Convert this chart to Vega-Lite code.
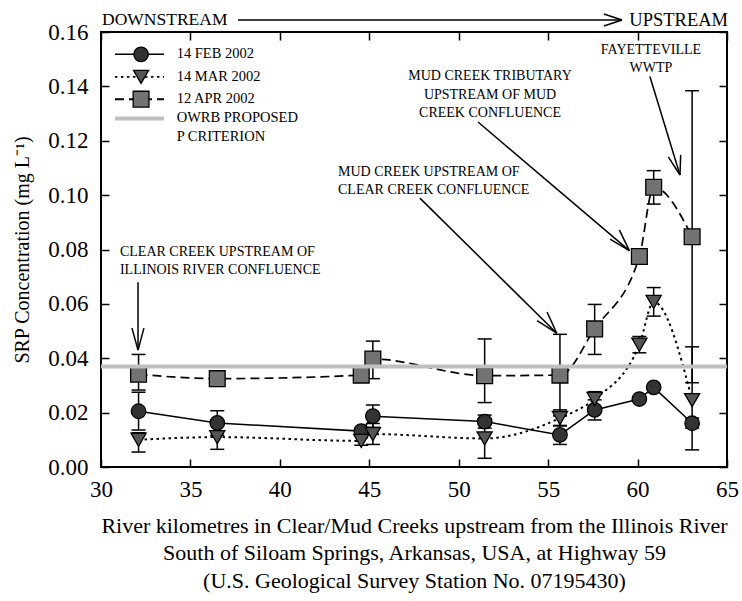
{
  "$schema": "https://vega.github.io/schema/vega-lite/v6.json",
  "width": 626,
  "height": 435,
  "autosize": "none",
  "padding": {"left": 101, "top": 32, "right": 15, "bottom": 134},
  "background": "white",
  "config": {
    "font": "Liberation Serif",
    "view": {"stroke": "black", "strokeWidth": 2},
    "axis": {
      "domain": false,
      "grid": false,
      "tickColor": "black",
      "tickWidth": 1.5,
      "tickSize": -8,
      "labelFont": "Liberation Serif",
      "labelFontSize": 23,
      "labelColor": "black",
      "titleFont": "Liberation Serif",
      "titleFontSize": 22,
      "titleFontWeight": "normal",
      "titleColor": "black"
    }
  },
  "datasets": {
    "pts": [
      {"s": "FEB", "km": 32.1, "val": 0.0205},
      {"s": "FEB", "km": 36.5, "val": 0.0162},
      {"s": "FEB", "km": 44.55, "val": 0.0132},
      {"s": "FEB", "km": 45.2, "val": 0.0187},
      {"s": "FEB", "km": 51.45, "val": 0.0167},
      {"s": "FEB", "km": 55.66, "val": 0.0118},
      {"s": "FEB", "km": 57.6, "val": 0.021},
      {"s": "FEB", "km": 60.1, "val": 0.025},
      {"s": "FEB", "km": 60.9, "val": 0.0293},
      {"s": "FEB", "km": 63.05, "val": 0.0161},
      {"s": "MAR", "km": 32.1, "val": 0.010},
      {"s": "MAR", "km": 36.5, "val": 0.011},
      {"s": "MAR", "km": 44.55, "val": 0.0096},
      {"s": "MAR", "km": 45.2, "val": 0.0121},
      {"s": "MAR", "km": 51.45, "val": 0.0105},
      {"s": "MAR", "km": 55.66, "val": 0.018},
      {"s": "MAR", "km": 57.6, "val": 0.025},
      {"s": "MAR", "km": 60.1, "val": 0.045},
      {"s": "MAR", "km": 60.9, "val": 0.0607},
      {"s": "MAR", "km": 63.05, "val": 0.0246},
      {"s": "APR", "km": 32.1, "val": 0.0341},
      {"s": "APR", "km": 36.5, "val": 0.0325},
      {"s": "APR", "km": 44.55, "val": 0.0338},
      {"s": "APR", "km": 45.2, "val": 0.0397},
      {"s": "APR", "km": 51.45, "val": 0.0336},
      {"s": "APR", "km": 55.66, "val": 0.0338},
      {"s": "APR", "km": 57.6, "val": 0.0508},
      {"s": "APR", "km": 60.1, "val": 0.0774},
      {"s": "APR", "km": 60.9, "val": 0.1029},
      {"s": "APR", "km": 63.05, "val": 0.0847}
    ],
    "err": [
      {"s": "FEB", "km": 32.1, "lo": 0.0136, "hi": 0.0275},
      {"s": "FEB", "km": 36.5, "lo": 0.0117, "hi": 0.0207},
      {"s": "FEB", "km": 45.2, "lo": 0.0146, "hi": 0.0228},
      {"s": "FEB", "km": 51.45, "lo": 0.0143, "hi": 0.0191},
      {"s": "FEB", "km": 55.66, "lo": 0.0083, "hi": 0.0153},
      {"s": "FEB", "km": 57.6, "lo": 0.0173, "hi": 0.0247},
      {"s": "FEB", "km": 63.05, "lo": 0.0143, "hi": 0.018},
      {"s": "MAR", "km": 32.1, "lo": 0.0055, "hi": 0.0126},
      {"s": "MAR", "km": 36.5, "lo": 0.0065, "hi": 0.0155},
      {"s": "MAR", "km": 44.55, "lo": 0.008, "hi": 0.0115},
      {"s": "MAR", "km": 45.2, "lo": 0.0083, "hi": 0.016},
      {"s": "MAR", "km": 51.45, "lo": 0.0032, "hi": 0.0178},
      {"s": "MAR", "km": 55.66, "lo": 0.0151, "hi": 0.021},
      {"s": "MAR", "km": 57.6, "lo": 0.0223, "hi": 0.0277},
      {"s": "MAR", "km": 60.1, "lo": 0.042, "hi": 0.048},
      {"s": "MAR", "km": 60.9, "lo": 0.0555, "hi": 0.066},
      {"s": "MAR", "km": 63.05, "lo": 0.0063, "hi": 0.0442},
      {"s": "APR", "km": 32.1, "lo": 0.0283, "hi": 0.0414},
      {"s": "APR", "km": 45.2, "lo": 0.0325, "hi": 0.0463},
      {"s": "APR", "km": 51.45, "lo": 0.0237, "hi": 0.0471},
      {"s": "APR", "km": 55.66, "lo": 0.0188, "hi": 0.0488},
      {"s": "APR", "km": 57.6, "lo": 0.0414, "hi": 0.0598},
      {"s": "APR", "km": 60.9, "lo": 0.0967, "hi": 0.109},
      {"s": "APR", "km": 63.05, "lo": 0.031, "hi": 0.1384}
    ],
    "legpts": [
      {"s": "FEB", "km": 32.24, "val": 0.1518},
      {"s": "MAR", "km": 32.24, "val": 0.1435},
      {"s": "APR", "km": 32.24, "val": 0.1353}
    ],
    "leglines": [
      {"s": "FEB", "km": 30.78, "km2": 33.52, "val": 0.1518},
      {"s": "MAR", "km": 30.78, "km2": 33.52, "val": 0.1435},
      {"s": "APR", "km": 30.78, "km2": 33.52, "val": 0.1353}
    ],
    "legcrit": [
      {"km": 30.78, "km2": 33.52, "val": 0.1282}
    ],
    "legtext": [
      {"km": 34.23, "val": 0.1518, "t": "14 FEB  2002"},
      {"km": 34.23, "val": 0.1435, "t": "14 MAR 2002"},
      {"km": 34.23, "val": 0.1353, "t": "12 APR  2002"},
      {"km": 34.23, "val": 0.1282, "t": "OWRB PROPOSED"},
      {"km": 34.23, "val": 0.1215, "t": "P CRITERION"}
    ],
    "annL": [
      {"km": 31.06, "val": 0.0791, "t": "CLEAR CREEK UPSTREAM OF"},
      {"km": 31.06, "val": 0.0725, "t": "ILLINOIS RIVER CONFLUENCE"},
      {"km": 43.25, "val": 0.1085, "t": "MUD CREEK UPSTREAM OF"},
      {"km": 43.25, "val": 0.1019, "t": "CLEAR CREEK CONFLUENCE"}
    ],
    "annC": [
      {"km": 51.75, "val": 0.1438, "t": "MUD CREEK TRIBUTARY"},
      {"km": 51.75, "val": 0.1368, "t": "UPSTREAM OF MUD"},
      {"km": 51.75, "val": 0.1302, "t": "CREEK CONFLUENCE"},
      {"km": 60.75, "val": 0.1534, "t": "FAYETTEVILLE"},
      {"km": 60.75, "val": 0.1468, "t": "WWTP"}
    ],
    "topL": [{"km": 30.06, "val": 0.1644, "t": "DOWNSTREAM"}],
    "topR": [{"km": 65.06, "val": 0.1644, "t": "UPSTREAM"}],
    "arrows": [
      {"km": 32.07, "val": 0.068, "km2": 32.07, "val2": 0.043},
      {"km": 31.73, "val": 0.0511, "km2": 32.07, "val2": 0.043},
      {"km": 32.40, "val": 0.0511, "km2": 32.07, "val2": 0.043},
      {"km": 47.83, "val": 0.0989, "km2": 55.48, "val2": 0.0492},
      {"km": 54.38, "val": 0.0538, "km2": 55.48, "val2": 0.0492},
      {"km": 54.94, "val": 0.057, "km2": 55.48, "val2": 0.0492},
      {"km": 51.08, "val": 0.1269, "km2": 59.54, "val2": 0.0796},
      {"km": 58.46, "val": 0.0838, "km2": 59.54, "val2": 0.0796},
      {"km": 58.98, "val": 0.0872, "km2": 59.54, "val2": 0.0796},
      {"km": 60.69, "val": 0.1436, "km2": 62.37, "val2": 0.1074},
      {"km": 61.72, "val": 0.1141, "km2": 62.37, "val2": 0.1074},
      {"km": 62.41, "val": 0.1148, "km2": 62.37, "val2": 0.1074},
      {"km": 37.66, "val": 0.1644, "km2": 59.13, "val2": 0.1644},
      {"km": 58.12, "val": 0.1666, "km2": 59.13, "val2": 0.1644},
      {"km": 58.12, "val": 0.1622, "km2": 59.13, "val2": 0.1644}
    ]
  },
  "layer": [
    {
      "layer": [
        {
          "data": {"name": "err"},
          "mark": {"type": "rule", "color": "black", "strokeWidth": 1.5},
          "encoding": {
            "x": {"field": "km", "type": "quantitative", "scale": {"domain": [30, 65], "nice": false, "zero": false},
              "axis": {"values": [30, 35, 40, 45, 50, 55, 60, 65], "labelPadding": 19, "labelFlush": false,
                "labelFont": "Liberation Serif", "titleFont": "Liberation Serif",
                "title": ["River kilometres in Clear/Mud Creeks upstream from the Illinois River", "South of Siloam Springs, Arkansas, USA, at Highway 59", "(U.S. Geological Survey Station No. 07195430)"],
                "titlePadding": 14, "titleLineHeight": 27.5}},
            "y": {"field": "lo", "type": "quantitative", "scale": {"domain": [0, 0.16], "nice": false},
              "axis": {"values": [0, 0.02, 0.04, 0.06, 0.08, 0.1, 0.12, 0.14, 0.16], "format": ".2f", "labelPadding": 21,
                "labelFont": "Liberation Serif", "titleFont": "Liberation Serif",
                "title": "SRP Concentration (mg L⁻¹)", "titleFontSize": 20, "titlePadding": 15}},
            "y2": {"field": "hi"}
          }
        },
        {
          "data": {"name": "err"},
          "transform": [{"fold": ["lo", "hi"], "as": ["which", "val"]}],
          "mark": {"type": "point", "shape": "stroke", "size": 196, "color": "black", "strokeWidth": 1.5, "filled": false, "opacity": 1},
          "encoding": {
            "x": {"field": "km", "type": "quantitative"},
            "y": {"field": "val", "type": "quantitative"}
          }
        },
        {
          "data": {"name": "pts"},
          "transform": [{"filter": "datum.s === 'FEB'"}],
          "mark": {"type": "line", "color": "black", "strokeWidth": 1.5},
          "encoding": {
            "x": {"field": "km", "type": "quantitative"},
            "y": {"field": "val", "type": "quantitative"}
          }
        },
        {
          "data": {"name": "pts"},
          "transform": [{"filter": "datum.s === 'MAR'"}],
          "mark": {"type": "line", "color": "black", "strokeWidth": 2, "strokeDash": [2.5, 3.5], "interpolate": "monotone"},
          "encoding": {
            "x": {"field": "km", "type": "quantitative"},
            "y": {"field": "val", "type": "quantitative"}
          }
        },
        {
          "data": {"name": "pts"},
          "transform": [{"filter": "datum.s === 'APR'"}],
          "mark": {"type": "line", "color": "black", "strokeWidth": 1.7, "strokeDash": [9, 5], "interpolate": "monotone"},
          "encoding": {
            "x": {"field": "km", "type": "quantitative"},
            "y": {"field": "val", "type": "quantitative"}
          }
        },
        {
          "data": {"name": "leglines"},
          "mark": {"type": "rule", "color": "black"},
          "encoding": {
            "x": {"field": "km", "type": "quantitative"},
            "x2": {"field": "km2"},
            "y": {"field": "val", "type": "quantitative"},
            "strokeDash": {"field": "s", "type": "nominal", "scale": {"domain": ["FEB", "MAR", "APR"], "range": [[1, 0], [2.5, 3.5], [9, 5]]}, "legend": null},
            "strokeWidth": {"field": "s", "type": "nominal", "scale": {"domain": ["FEB", "MAR", "APR"], "range": [1.5, 2, 1.7]}, "legend": null}
          }
        },
        {
          "data": {"name": "pts"},
          "mark": {"type": "point", "filled": true, "opacity": 1, "stroke": "black", "strokeWidth": 1.3},
          "encoding": {
            "x": {"field": "km", "type": "quantitative"},
            "y": {"field": "val", "type": "quantitative"},
            "shape": {"field": "s", "type": "nominal", "scale": {"domain": ["FEB", "MAR", "APR"], "range": ["circle", "triangle-down", "square"]}, "legend": null},
            "fill": {"field": "s", "type": "nominal", "scale": {"domain": ["FEB", "MAR", "APR"], "range": ["#333333", "#555555", "#737373"]}, "legend": null},
            "size": {"field": "s", "type": "nominal", "scale": {"domain": ["FEB", "MAR", "APR"], "range": [210, 250, 180]}, "legend": null}
          }
        },
        {
          "data": {"name": "legpts"},
          "mark": {"type": "point", "filled": true, "opacity": 1, "stroke": "black", "strokeWidth": 1.3},
          "encoding": {
            "x": {"field": "km", "type": "quantitative"},
            "y": {"field": "val", "type": "quantitative"},
            "shape": {"field": "s", "type": "nominal", "legend": null},
            "fill": {"field": "s", "type": "nominal", "legend": null},
            "size": {"field": "s", "type": "nominal", "legend": null}
          }
        },
        {
          "data": {"values": [{"val": 0.037}]},
          "mark": {"type": "rule", "color": "#c0c0c0", "strokeWidth": 4},
          "encoding": {
            "y": {"field": "val", "type": "quantitative"}
          }
        },
        {
          "data": {"name": "legcrit"},
          "mark": {"type": "rule", "color": "#c0c0c0", "strokeWidth": 4},
          "encoding": {
            "x": {"field": "km", "type": "quantitative"},
            "x2": {"field": "km2"},
            "y": {"field": "val", "type": "quantitative"}
          }
        },
        {
          "data": {"name": "legtext"},
          "mark": {"type": "text", "align": "left", "baseline": "middle", "fontSize": 14.5, "font": "Liberation Serif", "color": "black"},
          "encoding": {
            "x": {"field": "km", "type": "quantitative"},
            "y": {"field": "val", "type": "quantitative"},
            "text": {"field": "t"}
          }
        },
        {
          "data": {"name": "annL"},
          "mark": {"type": "text", "align": "left", "baseline": "middle", "fontSize": 14, "font": "Liberation Serif", "color": "black"},
          "encoding": {
            "x": {"field": "km", "type": "quantitative"},
            "y": {"field": "val", "type": "quantitative"},
            "text": {"field": "t"}
          }
        },
        {
          "data": {"name": "annC"},
          "mark": {"type": "text", "align": "center", "baseline": "middle", "fontSize": 14, "font": "Liberation Serif", "color": "black"},
          "encoding": {
            "x": {"field": "km", "type": "quantitative"},
            "y": {"field": "val", "type": "quantitative"},
            "text": {"field": "t"}
          }
        },
        {
          "data": {"name": "topL"},
          "mark": {"type": "text", "align": "left", "baseline": "middle", "fontSize": 17.5, "font": "Liberation Serif", "color": "black"},
          "encoding": {
            "x": {"field": "km", "type": "quantitative"},
            "y": {"field": "val", "type": "quantitative"},
            "text": {"field": "t"}
          }
        },
        {
          "data": {"name": "topR"},
          "mark": {"type": "text", "align": "right", "baseline": "middle", "fontSize": 18.5, "font": "Liberation Serif", "color": "black"},
          "encoding": {
            "x": {"field": "km", "type": "quantitative"},
            "y": {"field": "val", "type": "quantitative"},
            "text": {"field": "t"}
          }
        },
        {
          "data": {"name": "arrows"},
          "mark": {"type": "rule", "color": "black", "strokeWidth": 1.5},
          "encoding": {
            "x": {"field": "km", "type": "quantitative"},
            "y": {"field": "val", "type": "quantitative"},
            "x2": {"field": "km2"},
            "y2": {"field": "val2"}
          }
        }
      ]
    },
    {
      "data": {"values": [{"km": 30, "val": 0}]},
      "mark": {"type": "point", "opacity": 0},
      "encoding": {
        "x": {"field": "km", "type": "quantitative", "scale": {"domain": [30, 65], "nice": false, "zero": false},
          "axis": {"orient": "top", "values": [30, 35, 40, 45, 50, 55, 60, 65], "labels": false, "title": null}},
        "y": {"field": "val", "type": "quantitative", "scale": {"domain": [0, 0.16], "nice": false},
          "axis": {"orient": "right", "values": [0, 0.02, 0.04, 0.06, 0.08, 0.1, 0.12, 0.14, 0.16], "labels": false, "title": null}}
      }
    }
  ],
  "resolve": {"scale": {"x": "independent", "y": "independent"}}
}
